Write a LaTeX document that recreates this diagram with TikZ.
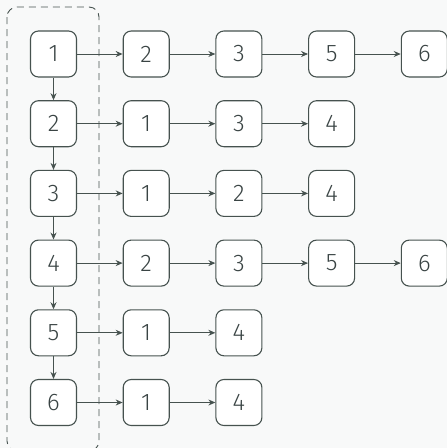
\documentclass[tikz,border=0pt]{standalone}
\usepackage{fontspec}
\setmainfont{Fira Sans}[UprightFont=* Light]
\usetikzlibrary{arrows.meta}

\definecolor{pagebg}{HTML}{F8F9F9}
\definecolor{linec}{HTML}{46524F}
\definecolor{textc}{HTML}{3A4444}

\tikzset{
  vtx/.style={draw=linec, fill=white, rounded corners=8pt, minimum size=46pt, line width=1.1pt,
    text=textc, font=\fontsize{24}{28}\selectfont, inner sep=0pt},
  link/.style={draw=linec, line width=1pt, -{Stealth[length=7pt,width=6pt]}},
  group/.style={draw=linec, line width=0.9pt, dash pattern=on 7pt off 5pt, rounded corners=10pt}
}

\begin{document}
\begin{tikzpicture}[x=1pt, y=-1pt]
		\fill[pagebg] (0,0) rectangle (447,448);
		\useasboundingbox (0,0) rectangle (447,448);
		% adjacency list: head vertex / neighbours
		\foreach \v/\nbrs [count=\i] in {1/{2,3,5,6}, 2/{1,3,4}, 3/{1,2,4}, 4/{2,3,5,6}, 5/{1,4}, 6/{1,4}}{
			\pgfmathsetmacro{\rowy}{54+69.7*(\i-1)}
			\node[vtx] (n\i-0) at (53.5,\rowy) {\v};
			\foreach \w [count=\j] in \nbrs {
				\pgfmathtruncatemacro{\k}{\j-1}
				\node[vtx] (n\i-\j) at ({53.5+92.7*\j},\rowy) {\w};
				\draw[link] (n\i-\k) -- (n\i-\j);
			}
		}
		\foreach \i [evaluate=\i as \k using int(\i+1)] in {1,...,5}
			\draw[link] (n\i-0) -- (n\k-0);
		% head column
		\draw[group] (7,7) rectangle (99,451);
	\end{tikzpicture}
\end{document}
